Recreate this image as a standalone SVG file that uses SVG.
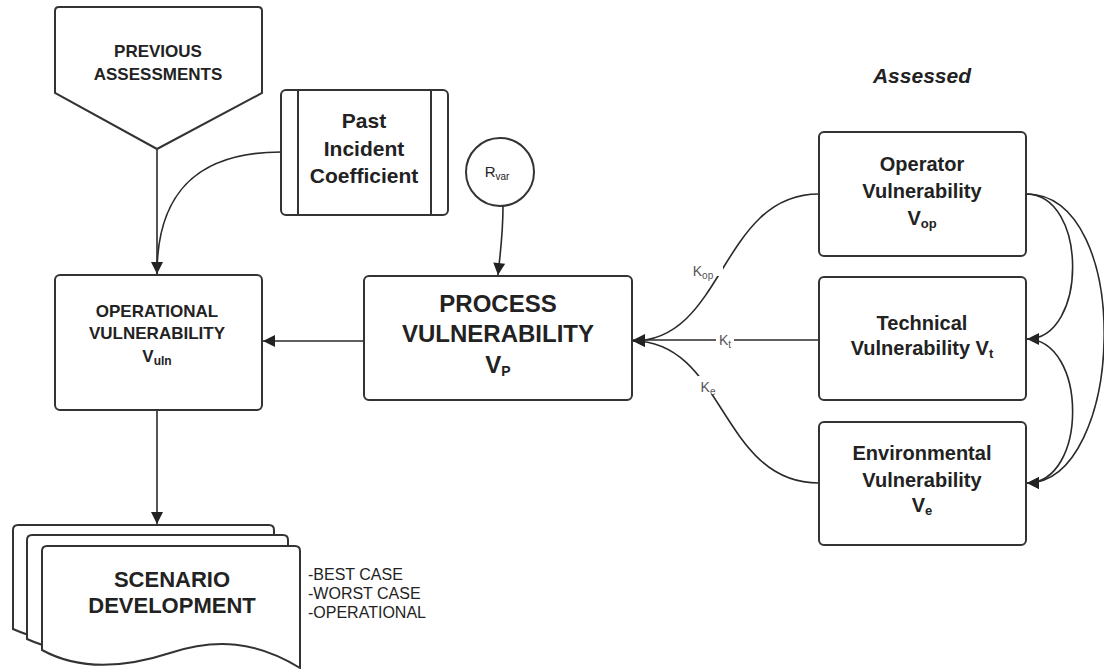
<svg xmlns="http://www.w3.org/2000/svg" width="1104" height="669" viewBox="0 0 1104 669">
  <defs>
    <marker id="arrowL" viewBox="0 0 10 10" refX="10" refY="5" markerWidth="13" markerHeight="12" markerUnits="userSpaceOnUse" orient="auto">
      <path d="M0,0 L10,5 L0,10 Z" fill="#222"/>
    </marker>
  </defs>
  <style>
    .shape { fill: #fff; stroke: #333; stroke-width: 2; }
    .edge { fill: none; stroke: #2a2a2a; stroke-width: 1.6; }
    text { font-family: "Liberation Sans", Arial, sans-serif; fill: #222; text-anchor: middle; }
    .b { font-weight: bold; }
    .lbl { font-size: 14px; fill: #555; }
    .note { font-size: 16px; text-anchor: start; }
  </style>
  <rect width="1104" height="669" fill="#fff"/>

  <!-- Connectors -->
  <g id="connectors">
    <path class="edge" d="M157,150 L157,274" marker-end="url(#arrowL)"/>
    <path class="edge" d="M281,152 C200,152 157,190 157,274" />
    <path class="edge" d="M157,410 L157,524" marker-end="url(#arrowL)"/>
    <path class="edge" d="M364,341 L263,341" marker-end="url(#arrowL)"/>
    <path class="edge" d="M503,206 C503,235 500,255 498,275" marker-end="url(#arrowL)"/>
    <!-- weighted inputs into process vulnerability -->
    <path class="edge" d="M819,194 C720,194 725,341 633,341" marker-end="url(#arrowL)"/>
    <path class="edge" d="M819,340 L633,340" marker-end="url(#arrowL)"/>
    <path class="edge" d="M819,483 C720,483 725,341 633,341" marker-end="url(#arrowL)"/>
    <!-- relations between the assessed vulnerabilities -->
    <path class="edge" d="M1026,194 C1088,194 1088,339 1027,339" marker-end="url(#arrowL)"/>
    <path class="edge" d="M1026,339 C1088,339 1088,483 1027,483" marker-end="url(#arrowL)"/>
    <path class="edge" d="M1026,194 C1135,194 1125,483 1027,483" marker-end="url(#arrowL)"/>
    <!-- coefficient labels -->
    <rect x="689" y="258" width="34" height="18" fill="#fff"/>
    <text class="lbl" x="703" y="276">K<tspan font-size="10" dy="3">op</tspan></text>
    <rect x="716" y="330" width="18" height="18" fill="#fff"/>
    <text class="lbl" x="725" y="345">K<tspan font-size="10" dy="3">t</tspan></text>
    <rect x="698" y="376" width="20" height="18" fill="#fff"/>
    <text class="lbl" x="708" y="392">K<tspan font-size="10" dy="3">e</tspan></text>
  </g>

  <!-- Previous assessments (off-page reference) -->
  <g id="previous-assessments">
    <path class="shape" d="M59,7 L258,7 Q262,7 262,11 L262,93 L157,149 L55,93 L55,11 Q55,7 59,7 Z"/>
    <text class="b" x="158" y="57" font-size="17">PREVIOUS</text>
    <text class="b" x="158" y="80" font-size="17">ASSESSMENTS</text>
  </g>

  <!-- Past incident coefficient (predefined process) -->
  <g id="past-incident">
    <rect class="shape" x="281" y="90" width="167" height="125" rx="5"/>
    <line x1="298" y1="90" x2="298" y2="215" stroke="#333" stroke-width="2"/>
    <line x1="431" y1="90" x2="431" y2="215" stroke="#333" stroke-width="2"/>
    <text class="b" x="364" y="128" font-size="21">Past</text>
    <text class="b" x="364" y="156" font-size="21">Incident</text>
    <text class="b" x="364" y="183" font-size="21">Coefficient</text>
  </g>

  <!-- R_var -->
  <g id="rvar">
    <circle class="shape" cx="500" cy="172" r="34" stroke-width="1.6"/>
    <text x="497" y="177" font-size="15" fill="#444">R<tspan font-size="10" dy="3">var</tspan></text>
  </g>

  <!-- Operational vulnerability -->
  <g id="operational">
    <rect class="shape" x="55" y="275" width="207" height="135" rx="5"/>
    <text class="b" x="157" y="317" font-size="17">OPERATIONAL</text>
    <text class="b" x="157" y="339" font-size="17">VULNERABILITY</text>
    <text class="b" x="157" y="362" font-size="17">V<tspan font-size="12" dy="3">uln</tspan></text>
  </g>

  <!-- Process vulnerability -->
  <g id="process">
    <rect class="shape" x="364" y="276" width="268" height="124" rx="5"/>
    <text class="b" x="498" y="312" font-size="24">PROCESS</text>
    <text class="b" x="498" y="342" font-size="24">VULNERABILITY</text>
    <text class="b" x="498" y="373" font-size="24">V<tspan font-size="14" dy="3">P</tspan></text>
  </g>

  <!-- Assessed vulnerabilities -->
  <text class="b" x="922" y="83" font-size="21" font-style="italic">Assessed</text>

  <g id="operator">
    <rect class="shape" x="819" y="132" width="207" height="124" rx="5"/>
    <text class="b" x="922" y="171" font-size="20">Operator</text>
    <text class="b" x="922" y="198" font-size="20">Vulnerability</text>
    <text class="b" x="922" y="225" font-size="20">V<tspan font-size="13" dy="3">op</tspan></text>
  </g>

  <g id="technical">
    <rect class="shape" x="819" y="277" width="207" height="123" rx="5"/>
    <text class="b" x="922" y="330" font-size="20">Technical</text>
    <text class="b" x="922" y="355" font-size="20">Vulnerability V<tspan font-size="13" dy="3">t</tspan></text>
  </g>

  <g id="environmental">
    <rect class="shape" x="819" y="422" width="207" height="123" rx="5"/>
    <text class="b" x="922" y="460" font-size="20">Environmental</text>
    <text class="b" x="922" y="487" font-size="20">Vulnerability</text>
    <text class="b" x="922" y="512" font-size="20">V<tspan font-size="13" dy="3">e</tspan></text>
  </g>

  <!-- Scenario development (multiple documents) -->
  <g id="scenario">
    <path class="shape" d="M13,530 Q13,525 18,525 L269,525 Q274,525 274,530 L274,645 C230,620 190,617 143,632 C103,645 55,648 13,629 Z"/>
    <path class="shape" d="M27,540 Q27,535 32,535 L283,535 Q288,535 288,540 L288,655 C244,630 204,627 157,642 C117,655 69,658 27,639 Z"/>
    <path class="shape" d="M42,551 Q42,546 47,546 L295,546 Q300,546 300,551 L300,668 C256,641 216,638 170,653 C130,666 82,672 42,650 Z"/>
    <text class="b" x="172" y="587" font-size="22">SCENARIO</text>
    <text class="b" x="172" y="613" font-size="22">DEVELOPMENT</text>
  </g>

  <g id="scenario-cases">
    <text class="note" x="308" y="580">-BEST CASE</text>
    <text class="note" x="308" y="599">-WORST CASE</text>
    <text class="note" x="308" y="618">-OPERATIONAL</text>
  </g>
</svg>
